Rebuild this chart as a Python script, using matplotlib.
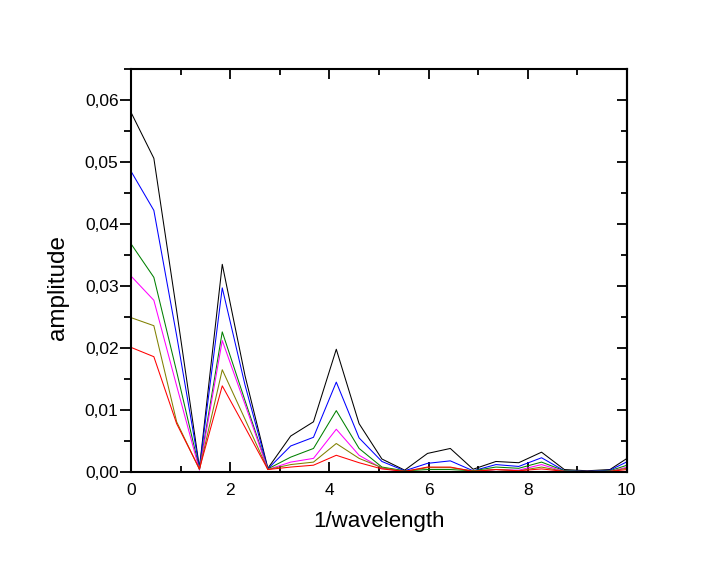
import matplotlib
matplotlib.use("Agg")
import matplotlib.pyplot as plt
from matplotlib.ticker import MultipleLocator, FuncFormatter

# spectrum sample positions (1/wavelength)
freq = [0.0, 0.46, 0.92, 1.38, 1.84, 2.30, 2.76, 3.22, 3.68, 4.14, 4.60, 5.06,
        5.52, 5.98, 6.44, 6.90, 7.36, 7.82, 8.28, 8.74, 9.20, 9.66, 10.12]

amp_black = [0.0580, 0.0506, 0.0260, 0.0007, 0.0335, 0.0155, 0.0006, 0.0058, 0.0081, 0.0198, 0.0078, 0.0021,
             0.0003, 0.0030, 0.0038, 0.00045, 0.0017, 0.0015, 0.0032, 0.0004, 0.0002, 0.0004, 0.0028]
amp_blue = [0.0485, 0.0422, 0.0220, 0.0006, 0.0297, 0.0140, 0.0005, 0.0042, 0.0056, 0.0145, 0.0055, 0.0017,
            0.0002, 0.0014, 0.0018, 0.0002, 0.0012, 0.0009, 0.0023, 0.0002, 0.0001, 0.0003, 0.0021]
amp_green = [0.0368, 0.0314, 0.0162, 0.0005, 0.0226, 0.0115, 0.0005, 0.0024, 0.0038, 0.0099, 0.0038, 0.0008,
             0.0002, 0.0004, 0.0004, 0.0002, 0.0008, 0.0006, 0.0016, 0.0002, 0.0001, 0.0002, 0.0014]
amp_magenta = [0.0316, 0.0277, 0.0139, 0.0003, 0.0212, 0.0109, 0.0004, 0.0016, 0.0022, 0.0069, 0.0027, 0.0006,
               0.0001, 0.0000, 0.0000, 0.0001, 0.0004, 0.0003, 0.0012, 0.0001, 0.0001, 0.0001, 0.0010]
amp_olive = [0.0249, 0.0236, 0.0081, 0.0004, 0.0165, 0.0085, 0.0004, 0.0012, 0.0016, 0.0046, 0.0022, 0.0007,
             0.0001, 0.0007, 0.0007, 0.0002, 0.0004, 0.0002, 0.0008, 0.0001, 0.0000, 0.0001, 0.0008]
amp_red = [0.0201, 0.0186, 0.0078, 0.0005, 0.0139, 0.0072, 0.0004, 0.0008, 0.0011, 0.0027, 0.0015, 0.0005,
           0.0001, 0.0008, 0.0008, 0.0001, 0.0004, 0.0002, 0.0005, 0.0001, 0.0000, 0.0001, 0.0005]

series = [
    (amp_black, "black"),
    (amp_blue, "blue"),
    (amp_green, "green"),
    (amp_magenta, "magenta"),
    (amp_olive, "olive"),
    (amp_red, "red"),
]

plt.rcParams["font.family"] = ["Liberation Sans", "DejaVu Sans"]

fig = plt.figure(figsize=(7.28, 5.63), dpi=100)
ax = fig.add_axes([0.180, 0.1616, 0.681, 0.7158])

for vals, col in series:
    ax.plot(freq, vals, color=col, linewidth=0.75)

ax.set_xlim(0, 10)
ax.set_ylim(0, 0.065)

ax.xaxis.set_major_locator(MultipleLocator(2))
ax.xaxis.set_minor_locator(MultipleLocator(1))
ax.yaxis.set_major_locator(MultipleLocator(0.01))
ax.yaxis.set_minor_locator(MultipleLocator(0.005))
ax.yaxis.set_major_formatter(FuncFormatter(lambda v, p: f"{v:.2f}".replace(".", ",")))

for s in ax.spines.values():
    s.set_linewidth(1.5)

ax.tick_params(axis="both", which="both", width=1.3, labelsize=12.5)
ax.tick_params(axis="x", which="both", direction="in", top=True, bottom=True, pad=8)
ax.tick_params(axis="x", which="major", length=7)
ax.tick_params(axis="x", which="minor", length=4)
ax.tick_params(axis="y", which="both", direction="out", left=True, right=False, pad=1)
ax.tick_params(axis="y", which="major", length=8)
ax.tick_params(axis="y", which="minor", length=5)

# right-side ticks point inward
ax_r = ax.secondary_yaxis("right")
ax_r.yaxis.set_major_locator(MultipleLocator(0.01))
ax_r.yaxis.set_minor_locator(MultipleLocator(0.005))
ax_r.tick_params(axis="y", which="both", direction="in", labelright=False, width=1.3)
ax_r.tick_params(axis="y", which="major", length=7)
ax_r.tick_params(axis="y", which="minor", length=4)
ax_r.spines["right"].set_linewidth(1.5)

ax.set_xlabel("1/wavelength", fontsize=16, labelpad=9)
ax.set_ylabel("amplitude", fontsize=17.5)
ax.yaxis.set_label_coords(-0.125, 0.457)

fig.savefig("out.png", dpi=100)
plt.close(fig)
